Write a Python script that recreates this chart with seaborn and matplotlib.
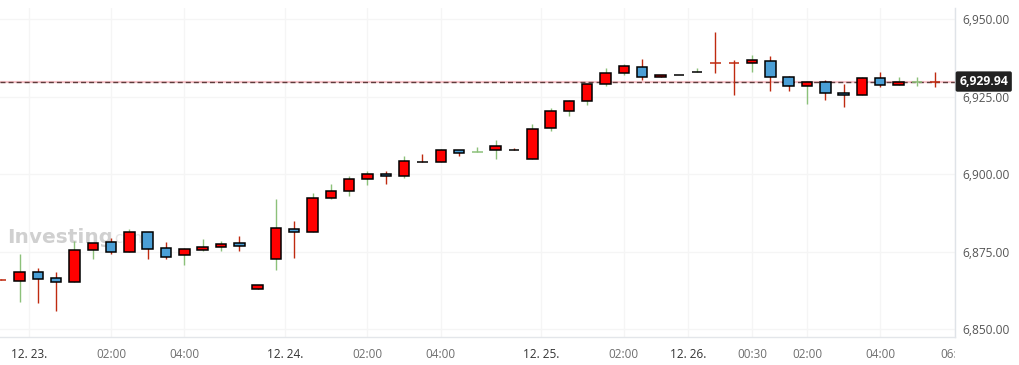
import matplotlib
matplotlib.use('Agg')
import matplotlib.pyplot as plt
import matplotlib.transforms as mtransforms
import seaborn as sns
import numpy as np

# 30-minute candles
opens = [6865.7, 6865.4, 6868.3, 6866.4, 6865.1, 6875.4, 6878.0, 6875.0, 6881.2, 6876.1,
         6873.8, 6875.6, 6876.4, 6877.7, 6862.8, 6872.5, 6882.2, 6881.2, 6892.2, 6894.5,
         6898.4, 6900.0, 6899.3, 6904.0, 6903.9, 6907.8, 6907.1, 6907.7, 6907.9, 6904.8,
         6914.8, 6920.3, 6923.6, 6929.1, 6932.6, 6934.6, 6931.3, 6932.0, 6933.0, 6935.8,
         6935.8, 6935.8, 6936.5, 6931.3, 6928.4, 6929.7, 6926.2, 6925.5, 6931.0, 6928.7,
         6929.94, 6929.94]
highs = [6866.3, 6874.2, 6869.6, 6868.3, 6878.4, 6877.7, 6879.3, 6882.2, 6881.2, 6878.0,
         6876.2, 6879.0, 6878.4, 6880.0, 6864.1, 6892.0, 6884.9, 6893.9, 6896.9, 6899.3,
         6901.0, 6901.0, 6905.9, 6906.5, 6908.2, 6907.8, 6908.7, 6911.1, 6908.5, 6916.2,
         6921.3, 6924.0, 6929.1, 6934.3, 6935.6, 6937.2, 6932.0, 6932.1, 6934.3, 6946.0,
         6936.8, 6938.5, 6938.2, 6931.7, 6930.0, 6930.3, 6929.1, 6931.3, 6932.9, 6931.3,
         6931.3, 6932.9]
lows = [6865.7, 6858.8, 6858.5, 6855.9, 6865.1, 6872.7, 6874.3, 6875.0, 6872.7, 6872.7,
        6870.8, 6875.2, 6875.2, 6875.2, 6862.8, 6869.2, 6873.0, 6881.2, 6891.9, 6893.1,
        6896.6, 6896.9, 6898.9, 6903.9, 6903.9, 6906.0, 6907.1, 6905.0, 6907.8, 6904.8,
        6914.1, 6918.9, 6922.5, 6928.6, 6932.1, 6930.5, 6931.3, 6932.0, 6933.0, 6932.6,
        6925.7, 6933.1, 6927.0, 6927.0, 6922.8, 6924.1, 6921.8, 6925.5, 6928.3, 6928.7,
        6928.6, 6928.3]
closes = [6865.7, 6868.3, 6866.3, 6865.1, 6875.4, 6877.7, 6875.0, 6881.2, 6875.9, 6873.4,
          6875.8, 6876.4, 6877.4, 6876.7, 6864.1, 6882.5, 6881.2, 6892.2, 6894.5, 6898.4,
          6900.0, 6899.3, 6904.2, 6903.9, 6907.8, 6906.8, 6907.1, 6909.1, 6907.8, 6914.6,
          6920.4, 6923.7, 6929.1, 6932.6, 6934.9, 6931.3, 6932.0, 6932.1, 6933.1, 6935.8,
          6935.8, 6936.8, 6931.3, 6928.4, 6929.7, 6926.2, 6925.5, 6931.0, 6928.7, 6929.7,
          6929.94, 6929.94]
# uptick (1) / downtick (0), sets wick colour
tick_up = [0, 1, 0, 0, 1, 1, 0, 1, 0, 0, 1, 1, 1, 0, 0, 1, 0, 1, 1, 1,
           1, 0, 1, 0, 1, 0, 1, 1, 0, 1, 1, 1, 1, 1, 1, 0, 0, 0, 1, 0,
           0, 1, 0, 0, 1, 0, 0, 1, 0, 1, 1, 0]

last_price = 6929.94
y_ticks = [6850, 6875, 6900, 6925, 6950]
x_tick_pos = [1.5, 6, 10, 15.5, 20, 24, 29.5, 34, 37.5, 41, 44, 48, 52.08]
x_tick_labels = ['12. 23.', '02:00', '04:00', '12. 24.', '02:00', '04:00', '12. 25.',
                 '02:00', '12. 26.', '00:30', '02:00', '04:00', '06:00']

sns.set_theme(style='white')
plt.rcParams['font.family'] = ['Open Sans', 'DejaVu Sans']

W, H = 1019, 365
fig = plt.figure(figsize=(W / 100, H / 100), dpi=100)
ax_right = 955 / W
ax = fig.add_axes([0, (H - 337) / H, ax_right, (337 - 8) / H])

up_body = '#ff0000'
down_body = '#4b9fd6'
wick_green = '#8cc17a'
wick_red = '#bf2a10'

o = np.array(opens)
h = np.array(highs)
l = np.array(lows)
c = np.array(closes)
x = np.arange(len(o))
wick_cols = [wick_green if t else wick_red for t in tick_up]
bw = 0.57

# wicks
ax.vlines(x, l, h, colors=wick_cols, linewidth=1.0, zorder=2)

# bodies
doji = o == c
body = ~doji
body_cols = np.where(c > o, up_body, down_body)
ax.bar(x[body], (c - o)[body], bottom=o[body], width=bw, color=body_cols[body],
       edgecolor='black', linewidth=1.1, zorder=3)
# exact doji: horizontal bar in the wick colour
ax.hlines(c[doji], x[doji] - bw / 2, x[doji] + bw / 2,
          colors=np.array(wick_cols)[doji], linewidth=1.1, zorder=3)

# last price line
ax.axhline(last_price, color='#f6c3c9', linewidth=1.6, zorder=1.5)
ax.axhline(last_price, color='#5e3b3b', linewidth=1.0, linestyle=(0, (3.6, 2.2)), zorder=1.6)

ax.set_xlim(-0.0655, 52.07)
ax.set_ylim(6847.4, 6953.7)

ax.yaxis.tick_right()
ax.set_yticks(y_ticks)
ax.set_yticklabels([f'{v:,.2f}' for v in y_ticks], fontsize=8.6, color='#555555')
ax.set_xticks(x_tick_pos)
ax.set_xticklabels(x_tick_labels, fontsize=8.5)
for lbl in ax.get_xticklabels():
    txt = lbl.get_text()
    lbl.set_color('#333333' if '.' in txt else '#6f6f6f')
ax.tick_params(axis='both', length=0)
ax.tick_params(axis='y', pad=5)
ax.tick_params(axis='x', pad=8)

# clip the last time label at the price axis, like the original
clip = mtransforms.TransformedBbox(mtransforms.Bbox([[0, 0], [ax_right, 1]]), fig.transFigure)
last_lbl = ax.get_xticklabels()[-1]
last_lbl.set_clip_on(True)
last_lbl.set_clip_box(clip)

ax.grid(True, color='#f5f5f5', linewidth=1.0)
ax.set_axisbelow(True)
for side in ['top', 'left']:
    ax.spines[side].set_visible(False)
ax.spines['right'].set_color('#dfe3e8')
ax.spines['bottom'].set_color('#e3e6ea')
ax.spines['right'].set_linewidth(1.0)
ax.spines['bottom'].set_linewidth(1.0)

# last price tag on the axis
trans = mtransforms.blended_transform_factory(ax.transAxes, ax.transData)
ax.text(1.0045, last_price, f'{last_price:,.2f}', transform=trans, ha='left', va='center',
        fontsize=8.8, fontweight='bold', color='white', clip_on=False, zorder=10,
        bbox=dict(boxstyle='round,pad=0.3,rounding_size=0.15', facecolor='#222222',
                  edgecolor='none'))

# watermark
ax.text(7 / 955, (337 - 243) / 329, 'Investing', transform=ax.transAxes,
        fontsize=14.5, fontweight='bold', color='#d0d0d0', family='DejaVu Sans',
        ha='left', va='baseline', zorder=0.5)
ax.text(110 / 955, (337 - 243) / 329, '.com', transform=ax.transAxes,
        fontsize=11, color='#e4e4e4', family='DejaVu Sans',
        ha='left', va='baseline', zorder=0.5)

fig.savefig('out.png', dpi=100)
